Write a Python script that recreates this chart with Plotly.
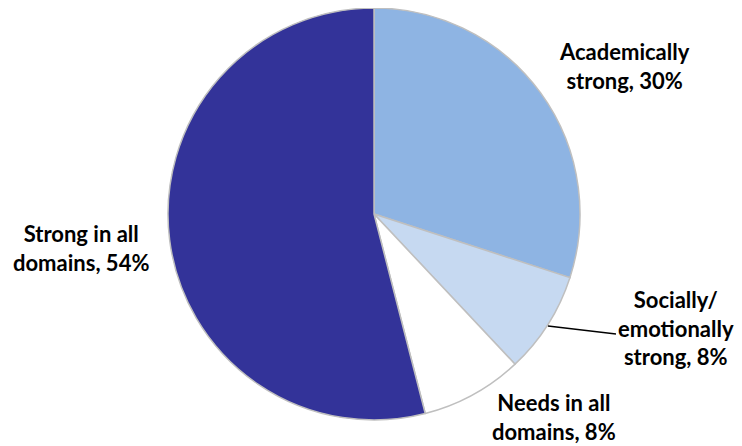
import plotly.graph_objects as go

labels = ["Academically strong", "Socially/ emotionally strong", "Needs in all domains", "Strong in all domains"]
values = [30, 8, 8, 54]
colors = ["#8EB4E3", "#C6D9F1", "#FFFFFF", "#333399"]
label_text = ["Academically<br>strong, 30%", "Socially/<br>emotionally<br>strong, 8%",
              "Needs in all<br>domains, 8%", "Strong in all<br>domains, 54%"]

W, H = 742, 446
OFF = 8  # page body margin


def px(x):
    return (x - OFF) / W


def py(y):
    return 1 - (y - OFF) / H


cx, cy, r = 374, 214, 206

fig = go.Figure(go.Pie(
    labels=labels, values=values, sort=False, direction="clockwise", rotation=0,
    marker=dict(colors=colors, line=dict(color="#BFBFBF", width=1.5)),
    textinfo="none", hoverinfo="label+percent", showlegend=False,
    domain=dict(x=[px(cx - r), px(cx + r)], y=[py(cy + r), py(cy - r)]),
))

pos = [(624, 66), (676, 328), (554, 417), (81, 248)]
font = dict(family="Lato, 'Open Sans', sans-serif", size=22, color="black")
for t, (x, y) in zip(label_text, pos):
    fig.add_annotation(x=px(x), y=py(y), xref="paper", yref="paper", text="<b>" + t + "</b>",
                       showarrow=False, font=font, align="center", xanchor="center", yanchor="middle")

fig.add_shape(type="line", xref="paper", yref="paper",
              x0=px(548), y0=py(326), x1=px(616), y1=py(334),
              line=dict(color="black", width=1.5))

fig.update_layout(width=W, height=H, margin=dict(l=0, r=0, t=0, b=0),
                  paper_bgcolor="white", plot_bgcolor="white")
fig.write_html("out.html")
